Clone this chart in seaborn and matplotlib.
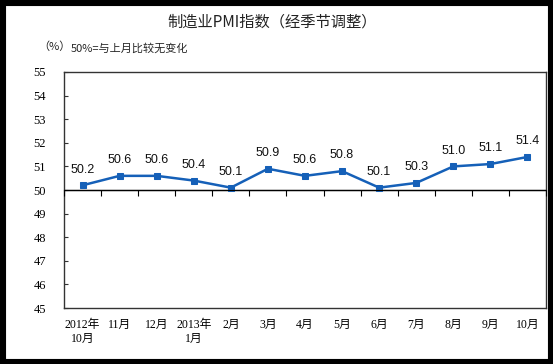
import matplotlib
matplotlib.use("Agg")
from matplotlib import pyplot as plt
from matplotlib.patches import Rectangle
import numpy as np
import pandas as pd
import seaborn as sns


MONTHS = ["2012年\n10月", "11月", "12月", "2013年\n1月", "2月", "3月", "4月",
          "5月", "6月", "7月", "8月", "9月", "10月"]
PMI = [50.2, 50.6, 50.6, 50.4, 50.1, 50.9, 50.6, 50.8, 50.1, 50.3, 51.0, 51.1, 51.4]
Y_TICKS = list(range(45, 56))

TITLE = "制造业PMI指数（经季节调整）"
UNIT = "（%）"
NOTE = "50%=与上月比较无变化"

LINE_COLOR = "#1560b8"
CJK = ["Noto Sans CJK SC", "DejaVu Sans"]
SERIF_CJK = ["Liberation Serif", "Noto Sans CJK SC"]


def main():
    sns.set_style("white")
    plt.rcParams["font.family"] = CJK

    df = pd.DataFrame({"pos": np.arange(len(MONTHS)), "pmi": PMI})

    fig = plt.figure(figsize=(5.53, 3.64), dpi=100)
    fig.patches.append(Rectangle((0, 0), 1, 1, transform=fig.transFigure,
                                 facecolor="white", edgecolor="black",
                                 linewidth=8, zorder=-1))
    ax = fig.add_axes([0.1157, 0.1538, 0.8716, 0.6484])

    sns.lineplot(data=df, x="pos", y="pmi", ax=ax, color=LINE_COLOR,
                 linewidth=1.8, marker="s", markersize=5,
                 markeredgecolor=LINE_COLOR, zorder=3)

    for x, v in zip(df["pos"], df["pmi"]):
        ax.annotate(f"{v:.1f}", (x, v), xytext=(0, 7), textcoords="offset points",
                    ha="center", va="bottom", fontsize=9,
                    family="Liberation Sans", color="#111111")

    ax.axhline(50, color="black", linewidth=1, zorder=2)

    ax.set_xlim(-0.5, len(MONTHS) - 0.5)
    ax.set_ylim(Y_TICKS[0], Y_TICKS[-1])
    ax.set_yticks(Y_TICKS)
    ax.set_yticklabels([str(t) for t in Y_TICKS], family="Liberation Serif",
                       fontsize=9, color="black")
    ax.set_xticks(df["pos"])
    ax.set_xticklabels(MONTHS, family=SERIF_CJK, fontsize=8.5, linespacing=1.25,
                       color="black")
    ax.tick_params(axis="x", length=0, pad=8)
    ax.tick_params(axis="y", direction="in", length=3, pad=13, left=True,
                   color="#333333")
    ax.set_xlabel("")
    ax.set_ylabel("")
    for s in ax.spines.values():
        s.set_color("#333333")
        s.set_linewidth(1)

    # tick marks between months along the 50% line
    ax2 = ax.twiny()
    ax2.set_xlim(ax.get_xlim())
    ax2.set_xticks(np.arange(len(MONTHS) + 1) - 0.5)
    ax2.set_xticklabels([])
    for name, s in ax2.spines.items():
        s.set_visible(name == "bottom")
    ax2.spines["bottom"].set_position(("data", 50))
    ax2.spines["bottom"].set_color("black")
    ax2.xaxis.set_ticks_position("bottom")
    ax2.tick_params(axis="x", direction="out", length=4, color="black")

    fig.text(0.492, 1 - 22 / 364, TITLE, ha="center", va="center",
             fontsize=11, fontweight="medium", color="#222222")
    fig.text(38 / 553, 1 - 47 / 364, UNIT, ha="left", va="center", fontsize=8)
    fig.text(71 / 553, 1 - 48 / 364, NOTE, ha="left", va="center", fontsize=8)

    fig.savefig("out.png", dpi=100)


if __name__ == "__main__":
    main()
